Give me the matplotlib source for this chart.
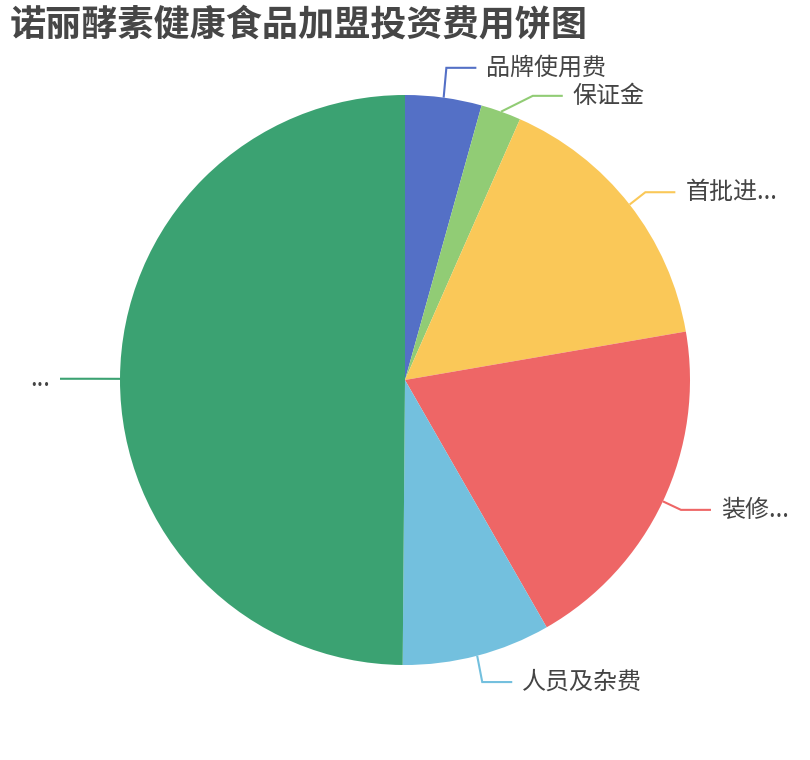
import numpy as np
import matplotlib
matplotlib.use("Agg")
import matplotlib.pyplot as plt

plt.rcParams['font.family'] = ['Noto Sans CJK SC', 'DejaVu Sans']

title = "诺丽酵素健康食品加盟投资费用饼图"
categories = ["品牌使用费", "保证金", "首批进货费", "装修费用", "人员及杂费", "其他费用"]
display_labels = ["品牌使用费", "保证金", "首批进...", "装修...", "人员及杂费", "..."]
values = [4.33, 2.28, 15.67, 19.44, 8.41, 49.87]
colors = ["#5470c6", "#91cc75", "#fac858", "#ee6666", "#73c0de", "#3ba272"]

W, H = 810, 760
fig = plt.figure(figsize=(W / 100, H / 100), dpi=100)
ax = fig.add_axes([0, 0, 1, 1])

cx, cy, R = 405, 380, 285
ax.pie(values, colors=colors, startangle=90, counterclock=False,
       center=(cx, cy), radius=R, frame=True,
       wedgeprops=dict(linewidth=0))
ax.set_xlim(0, W)
ax.set_ylim(0, H)
ax.set_aspect('equal')
ax.axis('off')

# label leader lines (ECharts style)
R2 = 305
len2 = 30
gap = 10
# overlap-avoidance nudges of the label elbow (pixels; y upward positive)
y_shift = {0: 10, 1: -3, 4: -7}
x_shift = {1: 25, 5: -10}
total = sum(values)
cum = 0
for i, v in enumerate(values):
    mid = (cum + v / 2) / total * 2 * np.pi  # clockwise from top
    cum += v
    sx, sy = np.sin(mid), np.cos(mid)
    side = 1 if sx >= 0 else -1
    p0 = (cx + R * sx, cy + R * sy)
    ex = cx + R2 * sx + x_shift.get(i, 0)
    ey = cy + R2 * sy + y_shift.get(i, 0)
    p2 = (ex + side * len2, ey)
    ax.plot([p0[0], ex, p2[0]], [p0[1], ey, p2[1]], color=colors[i], lw=1.5,
            solid_capstyle='butt', solid_joinstyle='miter')
    ax.text(p2[0] + side * gap, ey, display_labels[i], fontsize=17.3,
            color='#444444', ha='left' if side > 0 else 'right', va='center')

fig.text(10 / W, 1 - 25 / H, title, fontsize=26, fontweight='bold',
         color='#464646', ha='left', va='center')

fig.savefig("out.png", dpi=100, facecolor='white')
